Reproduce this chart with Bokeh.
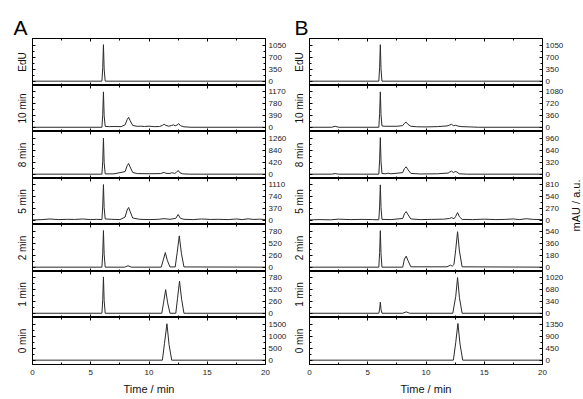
import math
from bokeh.plotting import figure
from bokeh.models import Range1d, LinearAxis, FixedTicker, NumeralTickFormatter
from bokeh.layouts import row, column
from bokeh.embed import file_html
from bokeh.resources import INLINE

FONT = "Liberation Sans"

row_labels = ["EdU", "10 min", "8 min", "5 min", "2 min", "1 min", "0 min"]
tick_step_A = [350, 390, 420, 370, 260, 260, 500]
tick_step_B = [350, 360, 320, 270, 180, 340, 450]
x_major = [0, 5, 10, 15, 20]
x_minor = [2.5, 7.5, 12.5, 17.5]

# ---- Panel A traces (time / min, signal / mAU) ----
tA_EdU = [0, 5.96, 6.03, 6.09, 6.15, 6.24, 20]
yA_EdU = [0, 0, 400, 1060, 350, 0, 0]

tA_10 = [0, 5.96, 6.03, 6.09, 6.15, 6.24, 6.6, 7.0, 7.6, 7.95, 8.12, 8.25, 8.38, 8.6, 9.0, 9.3, 9.6,
         10.0, 10.5, 10.9, 11.15, 11.3, 11.45, 11.7, 11.95, 12.1, 12.25, 12.4, 12.55, 12.7, 13.0, 13.6, 20]
yA_10 = [0, 0, 420, 1170, 380, 30, 20, 25, 20, 80, 250, 330, 220, 60, 30, 35, 25,
         35, 20, 25, 60, 100, 60, 35, 60, 80, 50, 70, 120, 50, 15, 0, 0]

tA_8 = [0, 5.96, 6.03, 6.09, 6.15, 6.24, 7.0, 7.95, 8.12, 8.25, 8.38, 8.6, 9.0, 10.0, 11.0, 11.2, 11.3,
        11.45, 11.8, 11.95, 12.05, 12.2, 12.35, 12.5, 12.65, 12.9, 13.5, 20]
yA_8 = [0, 0, 450, 1260, 400, 10, 10, 90, 290, 370, 250, 60, 20, 15, 20, 50, 60,
        30, 25, 50, 45, 25, 60, 130, 50, 10, 0, 0]

tA_5 = [0, 0.8, 1.5, 2.2, 3.0, 3.6, 4.3, 5.0, 5.5, 5.96, 6.03, 6.09, 6.15, 6.24, 6.8, 7.5, 7.95, 8.12,
        8.25, 8.38, 8.6, 9.2, 10.0, 10.8, 11.3, 11.8, 12.3, 12.5, 12.7, 13.0, 13.8, 14.5, 15.3, 16.0,
        16.8, 17.5, 18.0, 18.5, 19.0, 19.5, 20]
yA_5 = [10, 20, 40, 20, 30, 25, 40, 20, 30, 20, 450, 1120, 400, 40, 30, 20, 100, 320,
        400, 280, 70, 30, 20, 30, 50, 30, 60, 180, 60, 30, 20, 40, 25, 30,
        20, 40, 20, 45, 25, 35, 20]

tA_2 = [0, 5.96, 6.03, 6.09, 6.15, 6.24, 7.9, 8.2, 8.5, 11.05, 11.22, 11.4, 11.58, 11.8, 12.25, 12.42,
        12.6, 12.78, 13.0, 20]
yA_2 = [0, 0, 300, 790, 280, 0, 0, 30, 0, 0, 150, 315, 140, 5, 5, 320, 675, 300, 5, 0]

tA_1 = [0, 5.96, 6.03, 6.09, 6.15, 6.24, 11.1, 11.26, 11.43, 11.6, 11.8, 12.3, 12.45, 12.62, 12.8, 13.0, 20]
yA_1 = [0, 0, 300, 800, 280, 0, 0, 250, 520, 230, 0, 0, 330, 707, 310, 0, 0]

tA_0 = [0, 11.15, 11.33, 11.54, 11.72, 11.95, 20]
yA_0 = [0, 0, 700, 1510, 650, 0, 0]

# ---- Panel B traces ----
tB_EdU = [0, 5.95, 6.02, 6.08, 6.14, 6.22, 20]
yB_EdU = [0, 0, 400, 1060, 350, 0, 0]

tB_10 = [0, 1.9, 2.2, 2.5, 5.95, 6.02, 6.08, 6.14, 6.22, 6.5, 7.5, 8.0, 8.15, 8.3, 8.45, 8.7, 9.2, 10.0,
         11.0, 11.8, 12.05, 12.2, 12.35, 12.55, 12.7, 13.0, 13.8, 14.5, 20]
yB_10 = [0, 0, 30, 0, 0, 420, 1080, 380, 40, 30, 30, 50, 120, 155, 90, 30, 15, 10,
         20, 40, 70, 90, 50, 60, 40, 20, 10, 0, 0]

tB_8 = [0, 1.9, 2.2, 2.5, 5.95, 6.02, 6.08, 6.14, 6.22, 6.5, 6.75, 7.0, 8.0, 8.15, 8.3, 8.45, 8.7, 9.5,
        11.0, 11.9, 12.05, 12.2, 12.35, 12.5, 12.65, 12.85, 13.5, 20]
yB_8 = [0, 0, 15, 0, 0, 380, 970, 340, 20, 10, 25, 10, 40, 150, 195, 120, 20, 5,
        10, 30, 60, 80, 40, 70, 60, 10, 0, 0]

tB_5 = [0, 1.0, 1.8, 2.5, 3.5, 4.5, 5.4, 5.95, 6.02, 6.08, 6.14, 6.22, 7.0, 8.0, 8.15, 8.3, 8.45, 8.7,
        9.5, 10.5, 11.5, 12.0, 12.2, 12.4, 12.55, 12.71, 12.87, 13.1, 14.0, 15.0, 16.0, 16.8, 17.5,
        18.0, 18.6, 19.2, 20]
yB_5 = [10, 15, 10, 25, 15, 20, 15, 10, 320, 810, 290, 20, 15, 40, 150, 198, 130, 30,
        15, 20, 25, 40, 60, 35, 90, 175, 80, 20, 15, 25, 15, 20, 30,
        15, 35, 20, 15]

tB_2 = [0, 5.95, 6.02, 6.08, 6.14, 6.22, 8.0, 8.15, 8.3, 8.45, 8.7, 11.8, 12.1, 12.25, 12.4, 12.55,
        12.71, 12.87, 13.1, 20]
yB_2 = [0, 0, 220, 545, 200, 0, 0, 120, 165, 100, 5, 5, 30, 15, 40, 260, 530, 240, 5, 0]

tB_1 = [0, 5.95, 6.02, 6.08, 6.14, 6.22, 8.0, 8.3, 8.6, 12.3, 12.55, 12.71, 12.87, 13.1, 20]
yB_1 = [0, 0, 120, 320, 110, 0, 0, 40, 0, 0, 480, 1030, 450, 0, 0]

tB_0 = [0, 12.35, 12.55, 12.74, 12.92, 13.15, 20]
yB_0 = [0, 0, 650, 1370, 600, 0, 0]

traces_A = [(tA_EdU, yA_EdU), (tA_10, yA_10), (tA_8, yA_8), (tA_5, yA_5),
            (tA_2, yA_2), (tA_1, yA_1), (tA_0, yA_0)]
traces_B = [(tB_EdU, yB_EdU), (tB_10, yB_10), (tB_8, yB_8), (tB_5, yB_5),
            (tB_2, yB_2), (tB_1, yB_1), (tB_0, yB_0)]

frame_heights = [47, 46, 47, 46, 47, 46, 47]


def style_axis(ax, labels):
    ax.axis_line_color = "black"
    ax.major_tick_line_color = "black"
    ax.minor_tick_line_color = "black"
    ax.major_tick_in = 3
    ax.major_tick_out = 0
    ax.minor_tick_in = 2
    ax.minor_tick_out = 0
    ax.major_label_text_font = FONT
    ax.axis_label_text_font = FONT
    ax.axis_label_text_font_style = "normal"
    ax.axis_label_text_color = "#111111"
    if labels:
        ax.major_label_text_font_size = "8px"
        ax.major_label_text_color = "#222222"
        ax.major_label_standoff = 3
    else:
        ax.major_label_text_font_size = "0px"
        ax.major_label_text_color = None
        ax.major_label_standoff = 0


def make_fig(t, y, step, label, idx, panel):
    first = idx == 0
    last = idx == 6
    T = 3 * step
    left = 32 if panel == "A" else 20
    right = 22 if panel == "A" else 21
    p = figure(frame_width=233, frame_height=frame_heights[idx],
               x_range=Range1d(0, 20), y_range=Range1d(-0.12 * T, 1.18 * T),
               output_backend="svg", toolbar_location=None,
               x_axis_location=None, y_axis_location=None,
               min_border_left=left, min_border_right=right,
               min_border_top=38 if first else 0, min_border_bottom=32 if last else 0,
               background_fill_color="white", border_fill_color="white",
               outline_line_color="black")
    for g in p.grid:
        g.visible = False
    p.line(t, y, line_color="#2a2a2a", line_width=1)

    yt = FixedTicker(ticks=[0, step, 2 * step, 3 * step],
                     minor_ticks=[step / 2, 1.5 * step, 2.5 * step])
    xt = FixedTicker(ticks=x_major, minor_ticks=x_minor)

    la = LinearAxis(ticker=yt, axis_label=label)
    style_axis(la, False)
    la.axis_label_text_font_size = "10px"
    la.axis_label_standoff = 5
    p.add_layout(la, "left")

    ra = LinearAxis(ticker=yt, formatter=NumeralTickFormatter(format="0"))
    style_axis(ra, True)
    p.add_layout(ra, "right")

    ta = LinearAxis(ticker=xt)
    style_axis(ta, False)
    p.add_layout(ta, "above")

    ba = LinearAxis(ticker=xt)
    style_axis(ba, last)
    if last:
        ba.major_label_standoff = 5
        ba.axis_label = "Time / min"
        ba.axis_label_text_font_size = "11px"
        ba.axis_label_standoff = 5
    p.add_layout(ba, "below")

    if first:
        p.title.text = panel
        p.title.text_font = FONT
        p.title.text_font_size = "21px"
        p.title.text_font_style = "normal"
        p.title.text_color = "black"
        p.title.align = "left"
        p.title.offset = -19 if panel == "A" else -15
        p.title.standoff = 0
    return p


figs_A = []
figs_B = []
for i in range(7):
    figs_A.append(make_fig(traces_A[i][0], traces_A[i][1], tick_step_A[i], row_labels[i], i, "A"))
    figs_B.append(make_fig(traces_B[i][0], traces_B[i][1], tick_step_B[i], row_labels[i], i, "B"))

# thin figure carrying the shared right-hand quantity label
lab = figure(frame_width=1, frame_height=100, x_range=Range1d(0, 1), y_range=Range1d(0, 1),
             output_backend="svg", toolbar_location=None,
             x_axis_location=None, y_axis_location=None,
             min_border_left=12, min_border_right=0, min_border_top=155, min_border_bottom=0,
             outline_line_color=None, background_fill_color="white", border_fill_color="white")
for g in lab.grid:
    g.visible = False
lax = LinearAxis(ticker=FixedTicker(ticks=[]), axis_label="mAU / a.u.")
lax.axis_line_color = None
lax.major_tick_line_color = None
lax.minor_tick_line_color = None
lax.major_label_text_font_size = "0px"
lax.major_label_text_color = None
lax.major_label_standoff = 0
lax.axis_label_standoff = 0
lax.axis_label_text_font = FONT
lax.axis_label_text_font_size = "11px"
lax.axis_label_text_font_style = "normal"
lax.axis_label_text_color = "#111111"
lab.add_layout(lax, "left")

layout = row(column(*figs_A), column(*figs_B), lab)
open("out.html", "w").write(file_html(layout, INLINE))
